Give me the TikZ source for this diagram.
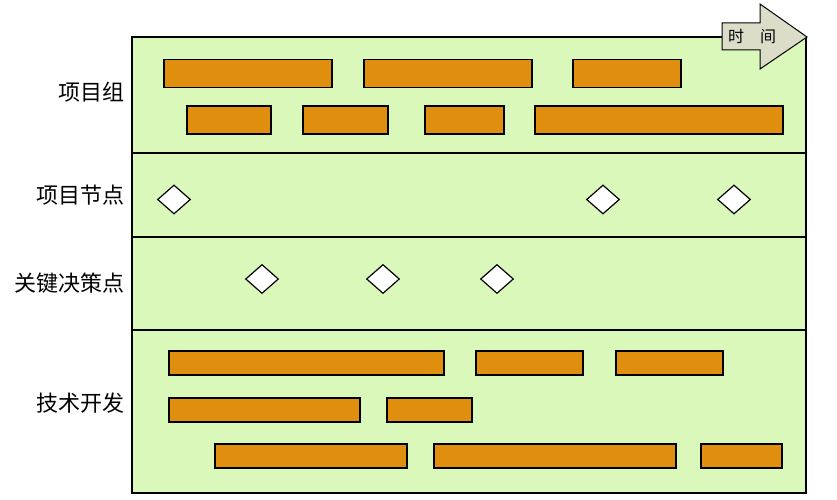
\documentclass[tikz,border=0pt]{standalone}
\usepackage{fontspec}
\newfontfamily\cjk{Noto Sans CJK SC}
\usetikzlibrary{%
  shapes.geometric,% wg. diamond
  positioning%
}
\definecolor{lanegreen}{RGB}{217,248,186}
\definecolor{taskorange}{RGB}{224,142,14}
\definecolor{arrowgray}{RGB}{220,221,200}

\begin{document}
\begin{tikzpicture}
  [
  x=1pt, y=-1pt,
  font=\cjk\fontsize{22}{26}\selectfont,
  lane/.style={fill=lanegreen, draw=black, line width=1.6pt},
  task/.style={rectangle, inner sep=0pt, fill=taskorange, draw=black, line width=1.2pt},
  milestone/.style={diamond, inner sep=0pt, minimum width=33pt, minimum height=29pt, fill=white, draw=black, line width=1.2pt},
  lanename/.style={anchor=east, inner sep=0pt},
  ]
  \useasboundingbox (0,0) rectangle (837,500);

  % lanes
  \draw[lane] (132,37) rectangle (806,493);
  \draw[line width=1.6pt] (132,153) -- (806,153);
  \draw[line width=1.6pt] (132,237) -- (806,237);
  \draw[line width=1.6pt] (132,330) -- (806,330);

  \node[lanename] (n1) at (125,92) {项目组};
  \node[lanename] (n2) at (125,195) {项目节点};
  \node[lanename] (n3) at (125,283) {关键决策点};
  \node[lanename] (n4) at (125,403) {技术开发};

  % project group
  \foreach \l/\r/\y [count=\i] in {164/332/73.5, 364/532/73.5, 573/681/73.5,
                                   187/271/120, 303/388/120, 425/504/120, 535/783/120} {
    \node[task, minimum width={(\r-\l)*1pt}, minimum height=28pt] (p\i) at ({(\l+\r)/2},\y) {};
  }

  % nodes and decision points
  \foreach \x [count=\i] in {174,603,734} {
    \node[milestone] (m\i) at (\x,199.5) {};
  }
  \foreach \x [count=\i] in {262,383,497} {
    \node[milestone] (d\i) at (\x,279) {};
  }

  % development
  \foreach \l/\r/\y [count=\i] in {169/444/363, 476/583/363, 616/723/363,
                                   169/360/410, 387/472/410,
                                   215/407/456, 434/676/456, 701/782/456} {
    \node[task, minimum width={(\r-\l)*1pt}, minimum height=24pt] (t\i) at ({(\l+\r)/2},\y) {};
  }

  % time arrow
  \draw[fill=arrowgray, line width=1pt] (722,23) -- (760,23) -- (760,4) -- (807,37)
    -- (760,69) -- (760,50) -- (722,50) -- cycle;
  \node[font=\cjk\fontsize{16}{18}\selectfont] (time) at (752,36) {时\hspace{1em}间};
\end{tikzpicture}
\end{document}
